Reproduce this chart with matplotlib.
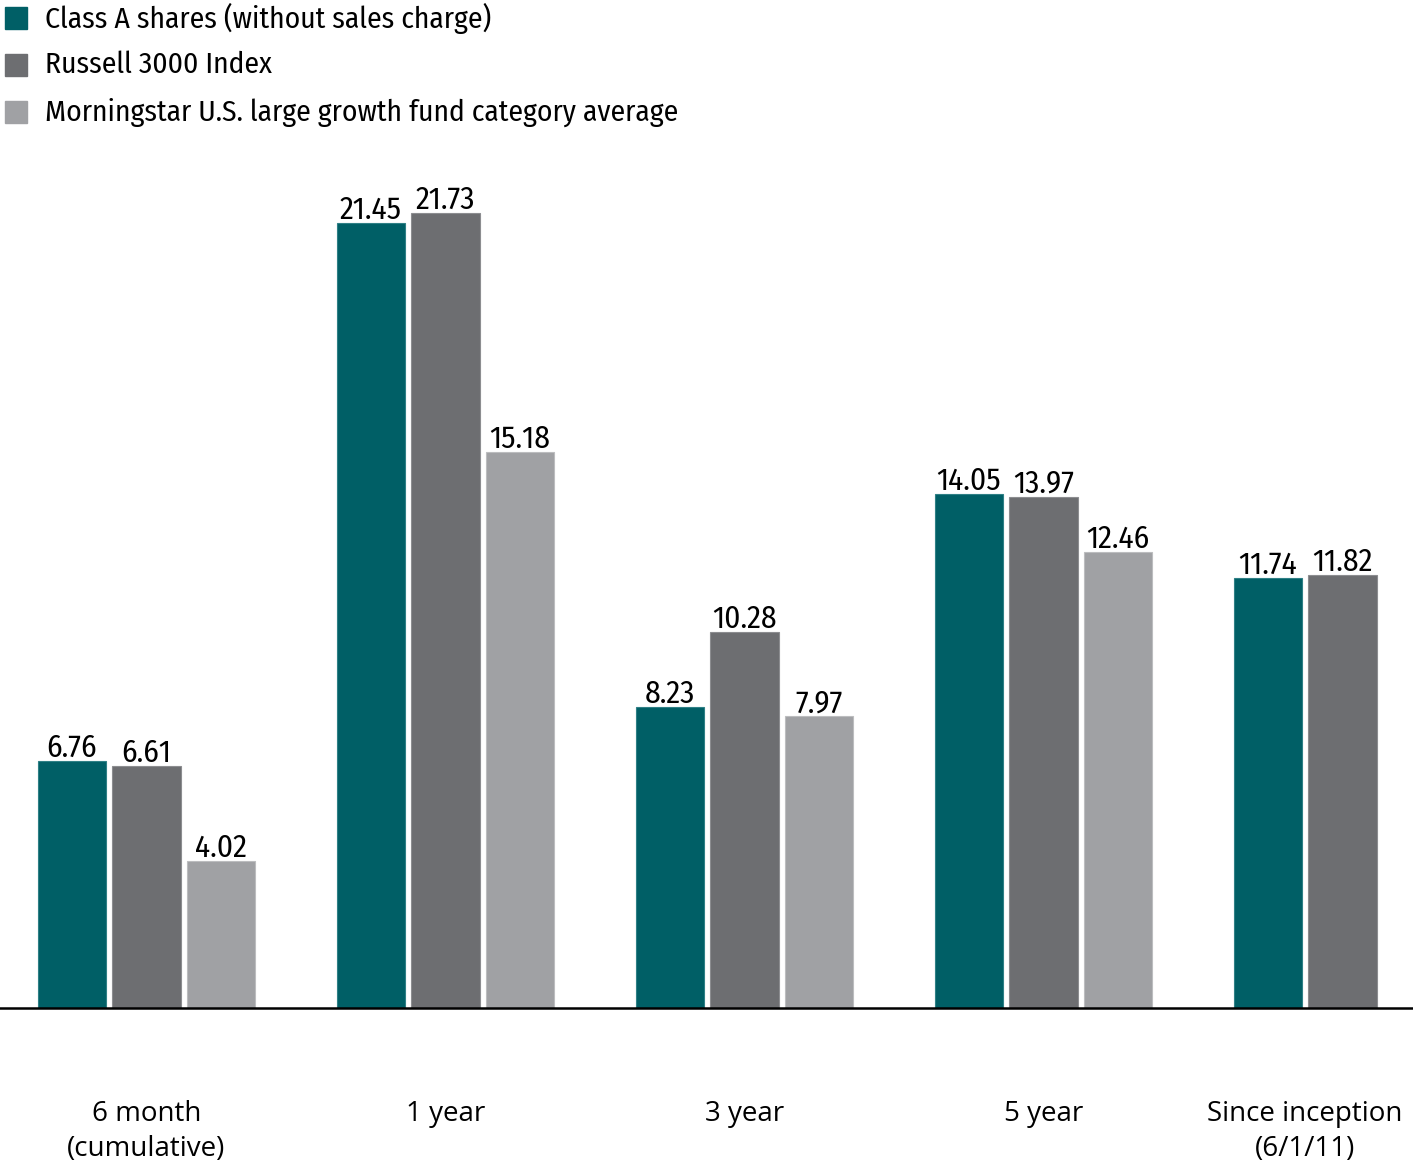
import matplotlib
matplotlib.use("Agg")
from matplotlib import pyplot as plt
from matplotlib import font_manager
from matplotlib.patches import Rectangle
import numpy as np

W, H = 1413, 1167

categories = ["6 month\n(cumulative)", "1 year", "3 year", "5 year", "Since inception\n(6/1/11)"]
series_names = ["Class A shares (without sales charge)",
                "Russell 3000 Index",
                "Morningstar U.S. large growth fund category average"]
class_a = [6.76, 21.45, 8.23, 14.05, 11.74]
russell = [6.61, 21.73, 10.28, 13.97, 11.82]
morningstar = [4.02, 15.18, 7.97, 12.46]

colors = ["#005f66", "#6d6e71", "#a0a1a4"]
edges = ["#2f8086", "#8c8d90", "#bcbdbf"]

# pick a condensed face close to the Frutiger Condensed of the original
installed = {f.name for f in font_manager.fontManager.ttflist}
cond_pref = ["Fira Sans Condensed", "Open Sans Condensed", "Roboto Condensed",
             "PT Sans Narrow", "Archivo Narrow", "Liberation Sans Narrow"]
cond_font = next((n for n in cond_pref if n in installed), "DejaVu Sans")
narrow = [cond_font, "DejaVu Sans"]
regular = ["Open Sans", "DejaVu Sans"]

fig = plt.figure(figsize=(W / 100, H / 100), dpi=100)
# axes: baseline at y=1008 px, top at y=150 px
ax = fig.add_axes([0, (H - 1008) / H, 1, (1008 - 150) / H])
px_per_unit = 36.6
ax.set_ylim(0, (1008 - 150) / px_per_unit)
ax.set_xlim(-146.5 / 299, (W - 146.5) / 299)

step = 0.25
width = 0.228
x = np.arange(len(categories))
all_series = [class_a, russell, morningstar]
for k, vals in enumerate(all_series):
    xs = x[:len(vals)] + (k - 1) * step
    bars = ax.bar(xs, vals, width=width, color=colors[k], edgecolor=edges[k], linewidth=0.8)
    for b, v in zip(bars, vals):
        ax.text(b.get_x() + b.get_width() / 2, v + 0.11, f"{v:.2f}",
                ha="center", va="baseline", fontsize=22.5, family=narrow, color="black")

label_x = x.astype(float)
label_x[-1] = x[-1] - step / 2
ax.set_xticks(label_x)
ax.set_xticklabels(categories, fontsize=20, family=regular, linespacing=1.36)
ax.tick_params(axis="x", length=0, pad=66)
ax.set_yticks([])
for s in ["top", "right", "left"]:
    ax.spines[s].set_visible(False)
ax.spines["bottom"].set_linewidth(1.8)
ax.spines["bottom"].set_color("black")

# legend
for i, name in enumerate(series_names):
    yc = 18 + i * 47
    fig.add_artist(Rectangle((5 / W, 1 - (yc + 11) / H), 22 / W, 22 / H,
                             transform=fig.transFigure, color=colors[i]))
    fig.text(45 / W, 1 - yc / H, name, ha="left", va="center",
             fontsize=21.3, family=narrow, color="black")

fig.savefig("out.png", dpi=100)
